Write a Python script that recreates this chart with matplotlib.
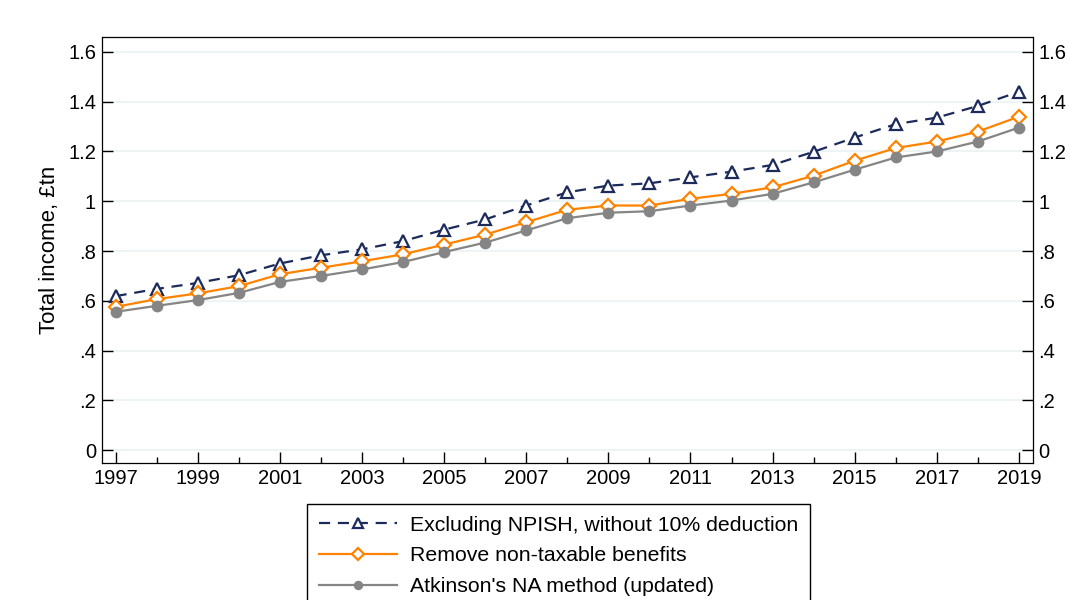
import matplotlib
matplotlib.use("Agg")
import matplotlib.pyplot as plt
from matplotlib.ticker import FixedLocator

plt.rcParams["font.family"] = ["Liberation Sans", "DejaVu Sans"]
plt.rcParams["font.size"] = 14.5

# Years and the three income series (£tn)
years = list(range(1997, 2020))

excl_npish = [0.619, 0.648, 0.672, 0.703, 0.750, 0.783, 0.807, 0.840, 0.886, 0.927,
              0.983, 1.036, 1.063, 1.072, 1.096, 1.119, 1.146, 1.199, 1.256, 1.310,
              1.336, 1.383, 1.440]
remove_nontax = [0.576, 0.607, 0.630, 0.659, 0.707, 0.733, 0.759, 0.787, 0.826, 0.866,
                 0.916, 0.966, 0.983, 0.983, 1.010, 1.030, 1.056, 1.103, 1.163, 1.214,
                 1.240, 1.280, 1.340]
atkinson = [0.556, 0.580, 0.603, 0.632, 0.676, 0.700, 0.726, 0.756, 0.796, 0.834,
            0.883, 0.932, 0.954, 0.960, 0.983, 1.003, 1.030, 1.076, 1.127, 1.176,
            1.200, 1.240, 1.296]

series_labels = ["Excluding NPISH, without 10% deduction",
                 "Remove non-taxable benefits",
                 "Atkinson's NA method (updated)"]

y_ticks = [0, 0.2, 0.4, 0.6, 0.8, 1.0, 1.2, 1.4, 1.6]
y_ticklabels = ["0", ".2", ".4", ".6", ".8", "1", "1.2", "1.4", "1.6"]
x_ticks = list(range(1997, 2020, 2))

fig = plt.figure(figsize=(10.7, 6), dpi=100)
ax = fig.add_axes([0.095, 0.228, 0.87, 0.71])

ax.plot(years, excl_npish, color="#1c2b5a", linestyle=(0, (5, 3.5)), linewidth=1.6,
        marker="^", markersize=8.5, markerfacecolor="white", markeredgewidth=1.6,
        label=series_labels[0], zorder=3)
ax.plot(years, remove_nontax, color="#ff8200", linewidth=1.6,
        marker="D", markersize=7.5, markerfacecolor="white", markeredgewidth=1.6,
        label=series_labels[1], zorder=3)
ax.plot(years, atkinson, color="#858585", linewidth=1.6,
        marker="o", markersize=8.5, markeredgewidth=0,
        label=series_labels[2], zorder=3)

ax.set_xlim(1996.66, 2019.33)
ax.set_ylim(-0.052, 1.659)
ax.set_xticks(x_ticks)
ax.xaxis.set_minor_locator(FixedLocator(list(range(1998, 2020, 2))))
ax.set_yticks(y_ticks)
ax.set_yticklabels(y_ticklabels)

ax.tick_params(axis="y", direction="in", length=8, width=1, left=True, right=True,
               labelleft=True, labelright=True, pad=4)
ax.tick_params(axis="x", which="major", direction="in", length=8, width=1, pad=4)
ax.tick_params(axis="x", which="minor", direction="in", length=4, width=1)

ax.grid(axis="y", color="#eaf2f3", linewidth=1.2, zorder=0)
for s in ax.spines.values():
    s.set_linewidth(0.9)

ax.set_ylabel("Total income, £tn", fontsize=16, labelpad=6)

fig.legend(loc="upper left", bbox_to_anchor=(0.287, 0.16), ncol=1, fontsize=15.3,
           frameon=True, fancybox=False, edgecolor="black", framealpha=1,
           handlelength=3.7, handletextpad=0.6, labelspacing=0.55,
           borderpad=0.55, borderaxespad=0, markerscale=0.8)

fig.savefig("out.png", dpi=100)
